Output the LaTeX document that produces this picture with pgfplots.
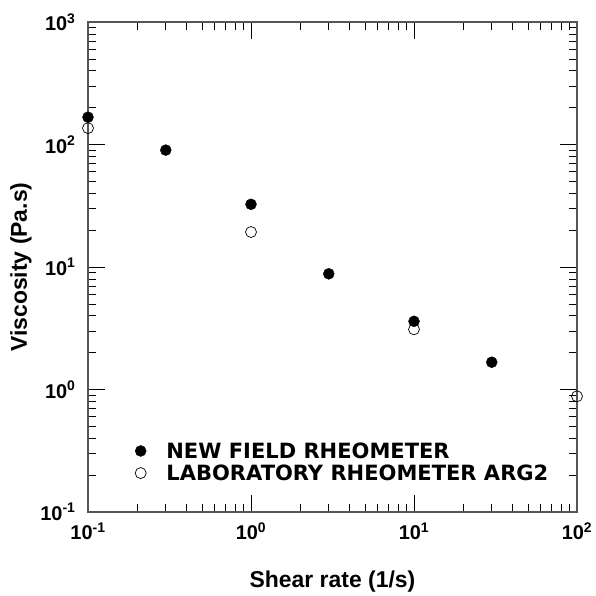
\documentclass[border=0pt]{standalone}
\usepackage{fontspec}
\setmainfont{Liberation Sans}
\newfontfamily\legfont{DejaVu Sans}
\usepackage{pgfplots}
\pgfplotsset{compat=1.18}

\definecolor{axisgray}{HTML}{555555}

\begin{document}
\begin{tikzpicture}
\begin{axis}[
    scale only axis,
    width=489bp, height=490bp,
    xmode=log, ymode=log,
    log basis x=10, log basis y=10,
    xmin=0.1, xmax=100,
    ymin=0.1, ymax=1000,
    axis line style={axisgray, line width=1.3pt},
    tick style={black, line width=0.7pt},
    tick align=inside,
    major tick length=17bp,
    minor tick length=8bp,
    xtick pos=both, ytick pos=both,
    xticklabel={\fontsize{20}{20}\selectfont\bfseries 10\textsuperscript{\pgfmathparse{int(round(\tick))}\pgfmathresult}},
    yticklabel={\fontsize{20}{20}\selectfont\bfseries 10\textsuperscript{\pgfmathparse{int(round(\tick))}\pgfmathresult}},
    xticklabel style={yshift=-7bp},
    yticklabel style={xshift=-9bp},
    xlabel={\fontsize{23}{23}\selectfont\bfseries Shear rate (1/s)},
    ylabel={\fontsize{23}{23}\selectfont\bfseries Viscosity (Pa.s)},
    xlabel style={yshift=-24bp},
    ylabel style={yshift=2bp},
    legend cell align=left,
    legend style={draw=none, fill=none, at={(0.09,0.102)}, anchor=west,
        font=\legfont\fontsize{21.1}{21.1}\selectfont\bfseries, row sep=1bp,
        nodes={inner xsep=3bp}},
    legend image code/.code={%
        \path[draw=none, fill=none] (-0.1cm,0cm) -- (0.8cm,0cm);
        \draw[#1] plot coordinates {(0cm,0cm)};},
]
\addplot[only marks, mark=*, mark size=5.5bp, mark options={fill=black, draw=black}]
coordinates {
    (0.1, 167)
    (0.3, 90)
    (1, 32.5)
    (3, 8.8)
    (10, 3.6)
    (30, 1.67)
};
\addlegendentry{NEW FIELD RHEOMETER}
\addplot[only marks, mark=o, mark size=5.5bp, mark options={draw=black, line width=0.7pt, fill=white}]
coordinates {
    (0.1, 136)
    (1, 19.3)
    (10, 3.1)
    (100, 0.88)
};
\addlegendentry{LABORATORY RHEOMETER ARG2}
\end{axis}
\path ([xshift=-88bp,yshift=-81bp]current axis.south west) rectangle ([xshift=19bp,yshift=22bp]current axis.north east);
\end{tikzpicture}
\end{document}
